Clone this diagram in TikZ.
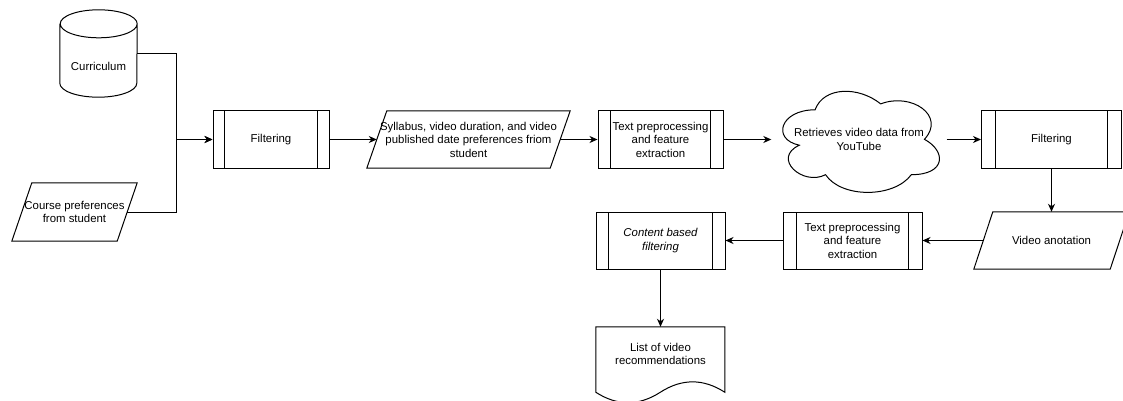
\documentclass[tikz,border=0pt]{standalone}
\usepackage{fontspec}
\setmainfont{Liberation Sans}
\usetikzlibrary{arrows.meta,calc}

\begin{document}
\begin{tikzpicture}[x=1pt,y=-1pt,
  every node/.style={font=\fontsize{11.4}{13.5}\selectfont, align=center, inner sep=0pt},
  line/.style={line width=1pt, draw=black},
  arr/.style={line, -{Stealth[length=8pt,width=7pt,inset=2.5pt]}},
  area/.style 2 args={minimum width=#1, minimum height=#2},
  proc/.style={draw, line width=1pt, minimum height=57pt, minimum width=#1,
    path picture={
      \draw[line width=1pt]
        ($(path picture bounding box.north west)!0.1!(path picture bounding box.north east)$) --
        ($(path picture bounding box.south west)!0.1!(path picture bounding box.south east)$)
        ($(path picture bounding box.north east)!0.1!(path picture bounding box.north west)$) --
        ($(path picture bounding box.south east)!0.1!(path picture bounding box.south west)$);
    }},
]
\clip (0,0) rectangle (1123,401);
\fill[white] (0,0) rectangle (1123,401);

% --- inputs -------------------------------------------------------------
\node[area={77pt}{87pt}, label={[yshift=-13pt]center:Curriculum}] (curr) at (98.5,53.5) {};
\draw[line] ([yshift=-14pt]curr.north west) -- ([yshift=14pt]curr.south west)
  arc[start angle=180, end angle=360, x radius=38.5pt, y radius=14pt]
  -- ([yshift=-14pt]curr.north east)
  arc[start angle=0, end angle=360, x radius=38.5pt, y radius=14pt];

\node[area={105pt}{58pt}] (course) at (74.5,212) {Course preferences\\from student};
\draw[line] ($(course.south west)+(-10,0)$) -- ($(course.north west)+(10,0)$)
  -- ($(course.north east)+(10,0)$) -- ($(course.south east)+(-10,0)$) -- cycle;

% --- top row ------------------------------------------------------------
\node[proc=116pt] (filt1) at (271,139.5) {Filtering};

\node[area={183pt}{57pt}] (syl) at (468.5,139.5)
  {Syllabus, video duration, and video\\published date preferences friom\\student};
\draw[line] ($(syl.south west)+(-10,0)$) -- ($(syl.north west)+(10,0)$)
  -- ($(syl.north east)+(10,0)$) -- ($(syl.south east)+(-10,0)$) -- cycle;

\node[proc=125pt] (tp1) at (660.5,139.5) {Text preprocessing\\and feature\\extraction};

\node[area={175pt}{118pt}] (cloud) at (859,139.5) {Retrieves video data from\\YouTube};
\draw[line, shift={(cloud.north west)}, x=175pt, y=-118pt]
  (0.25,0.25) .. controls (0.05,0.25) and (0,0.5) .. (0.16,0.55)
  .. controls (0,0.66) and (0.18,0.9) .. (0.31,0.8)
  .. controls (0.4,1) and (0.7,1) .. (0.8,0.8)
  .. controls (1,0.8) and (1,0.6) .. (0.875,0.5)
  .. controls (1,0.3) and (0.8,0.1) .. (0.625,0.2)
  .. controls (0.5,0.05) and (0.3,0.05) .. (0.25,0.25) -- cycle;

\node[proc=140pt] (filt2) at (1051.5,139.5) {Filtering};

% --- bottom row -----------------------------------------------------------
\node[area={136pt}{57pt}] (vid) at (1051.5,240.5) {Video anotation};
\draw[line] ($(vid.south west)+(-9.5,0)$) -- ($(vid.north west)+(9.5,0)$)
  -- ($(vid.north east)+(9.5,0)$) -- ($(vid.south east)+(-9.5,0)$) -- cycle;

\node[proc=139pt] (tp2) at (852.5,240.5) {Text preprocessing\\and feature\\extraction};

\node[proc=129pt] (cbf) at (660.5,240.5) {\itshape Content based\\\itshape filtering};

\node[area={129pt}{54pt}] (doc) at (660.5,354) {List of video\\recommendations};
\draw[line, shift={(doc.north west)}]
  (0,0) -- (129,0) -- (129,65.45)
  .. controls (107.5,51.59) and (86,51.59) .. (64.5,65.45)
  .. controls (43,79.31) and (21.5,79.31) .. (0,65.45) -- cycle;

% --- connectors -----------------------------------------------------------
\coordinate (jx) at (176,140);
\draw[arr] (curr.east) -- (curr.east -| jx) |- (filt1.west);
\draw[arr] (course.east) -- (course.east -| jx) |- (filt1.west);
\draw[arr] (filt1.east) -- (syl.west);
\draw[arr] (syl.east) -- (tp1.west);
\draw[arr] (tp1.east) -- (cloud.west);
\draw[arr] (cloud.east) -- (filt2.west);
\draw[arr] (filt2.south) -- (vid.north);
\draw[arr] (vid.west) -- (tp2.east);
\draw[arr] (tp2.west) -- (cbf.east);
\draw[arr] (cbf.south) -- (doc.north);
\end{tikzpicture}
\end{document}
